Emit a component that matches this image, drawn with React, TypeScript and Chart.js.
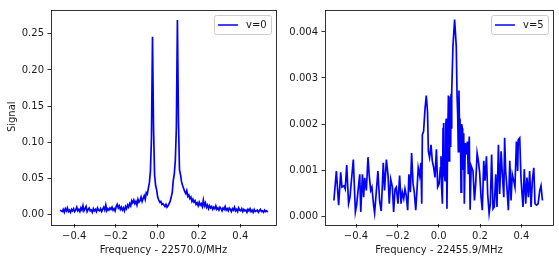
import React, { useEffect, useRef } from "react";
import { Chart, registerables } from "chart.js";

Chart.register(...registerables);

// ---------- data ----------
const leftLabel = "v=0";
const rightLabel = "v=5";
const leftXTitle = "Frequency - 22570.0/MHz";
const rightXTitle = "Frequency - 22455.9/MHz";
const leftYTitle = "Signal";

// uniform sampling grid of the left spectrum
const leftFreqStart = -0.468;
const leftFreqStep = 0.005;
const leftSignal = [
  0.006, 0.005, 0.004, 0.007, 0.003, 0.008, 0.005, 0.009, 0.004, 0.006,
  0.003, 0.007, 0.005, 0.008, 0.004, 0.006, 0.010, 0.005, 0.007, 0.004,
  0.009, 0.006, 0.012, 0.005, 0.008, 0.011, 0.004, 0.007, 0.009, 0.005,
  0.006, 0.003, 0.008, 0.005, 0.007, 0.004, 0.009, 0.006, 0.005, 0.008,
  0.004, 0.007, 0.010, 0.006, 0.013, 0.005, 0.008, 0.006, 0.009, 0.007,
  0.010, 0.006, 0.008, 0.005, 0.011, 0.014, 0.009, 0.012, 0.007, 0.010,
  0.006, 0.009, 0.005, 0.011, 0.008, 0.013, 0.010, 0.015, 0.012, 0.019,
  0.016, 0.020, 0.015, 0.018, 0.013, 0.021, 0.017, 0.019, 0.024, 0.018,
  0.022, 0.026, 0.021, 0.030, 0.028, 0.036, 0.044, 0.060, 0.105, 0.246,
  0.120, 0.055, 0.040, 0.034, 0.024, 0.020, 0.017, 0.018, 0.014, 0.015,
  0.013, 0.011, 0.014, 0.010, 0.012, 0.015, 0.018, 0.024, 0.030, 0.047,
  0.056, 0.075, 0.120, 0.269, 0.130, 0.062, 0.055, 0.045, 0.040, 0.036,
  0.032, 0.029, 0.033, 0.025, 0.027, 0.022, 0.024, 0.018, 0.021, 0.017,
  0.019, 0.014, 0.016, 0.012, 0.017, 0.013, 0.015, 0.011, 0.020, 0.012,
  0.016, 0.010, 0.013, 0.008, 0.012, 0.009, 0.011, 0.007, 0.010, 0.008,
  0.012, 0.007, 0.009, 0.006, 0.010, 0.008, 0.005, 0.009, 0.007, 0.011,
  0.006, 0.008, 0.005, 0.009, 0.007, 0.004, 0.008, 0.006, 0.010, 0.005,
  0.007, 0.004, 0.009, 0.006, 0.005, 0.008, 0.004, 0.007, 0.005, 0.006,
  0.003, 0.007, 0.005, 0.008, 0.004, 0.006, 0.003, 0.007, 0.004, 0.005,
  0.006, 0.003, 0.005, 0.007, 0.004, 0.005, 0.003, 0.006, 0.004, 0.005, 0.003,
];

const rightFreq = [
  -0.507, -0.495, -0.484, -0.474, -0.468, -0.458, -0.452, -0.445, -0.436, -0.429,
  -0.423, -0.413, -0.403, -0.397, -0.390, -0.382, -0.377, -0.369, -0.363, -0.358,
  -0.350, -0.342, -0.336, -0.329, -0.323, -0.315, -0.310, -0.302, -0.294, -0.286,
  -0.278, -0.268, -0.262, -0.253, -0.245, -0.239, -0.232, -0.224, -0.218, -0.211,
  -0.205, -0.197, -0.189, -0.182, -0.176, -0.169, -0.163, -0.157, -0.150, -0.144,
  -0.137, -0.131, -0.124, -0.118, -0.111, -0.105, -0.099, -0.092, -0.086, -0.082,
  -0.079, -0.073, -0.066, -0.060, -0.054, -0.050, -0.044, -0.037, -0.031, -0.024,
  -0.018, -0.011, -0.005, 0.002, 0.008, 0.011, 0.014, 0.018, 0.021, 0.024,
  0.027, 0.031, 0.034, 0.037, 0.040, 0.043, 0.047, 0.050, 0.053, 0.056,
  0.058, 0.060, 0.062, 0.064, 0.069, 0.077, 0.085, 0.089, 0.092, 0.095,
  0.098, 0.101, 0.103, 0.106, 0.108, 0.111, 0.114, 0.116, 0.119, 0.121,
  0.124, 0.129, 0.134, 0.139, 0.143, 0.148,
  0.152, 0.157, 0.166, 0.173, 0.179, 0.186, 0.192, 0.198, 0.205, 0.211,
  0.218, 0.224, 0.231, 0.237, 0.244, 0.250, 0.256, 0.263, 0.269, 0.276,
  0.282, 0.289, 0.295, 0.302, 0.308, 0.315, 0.319, 0.324, 0.331, 0.337,
  0.344, 0.350, 0.356, 0.363, 0.369, 0.376, 0.382, 0.385, 0.392, 0.398,
  0.402, 0.408, 0.414, 0.421, 0.427, 0.434, 0.440, 0.447, 0.453, 0.460,
  0.466, 0.473, 0.481, 0.489, 0.495, 0.502,
];
const rightSignal = [
  0.00034, 0.00098, 0.000235, 0.00095, 0.00063, 0.00066, 0.00059, 0.00111, 0.00027, 0.00041,
  0.00073, 0.00123, 0.00009, 0.00024, 0.00056, 0.00091, 0.00009, 0.00091, 0.00041, 0.00083,
  0.00056, 0.00128, 0.00088, 0.00056, 0.00063, 0.00024, 0.00007, 0.00052, 0.00098, 0.00034,
  0.00011, 0.00116, 0.00056, 0.00123, 0.00088, 0.00027, 0.0008, 0.00063, 0.00009, 0.00059,
  0.00063, 0.00027, 0.00088, 0.00027, 0.00052, 0.00038, 0.00059, 0.00045, 0.00013, 0.00091,
  0.00052, 0.00137, 0.0007, 0.00052, 0.00013, 0.00056, 0.00105, 0.00088, 0.00116, 0.00027,
  0.00177, 0.00184, 0.00234, 0.00262, 0.00226, 0.00141, 0.00127, 0.00155, 0.0012, 0.00105,
  0.00084, 0.00145, 0.00063, 0.0007, 0.00105, 0.0013, 0.00063, 0.00027, 0.0019, 0.00202,
  0.0009, 0.00077, 0.002, 0.00212, 0.00016, 0.0015, 0.00262, 0.0012, 0.0017, 0.0026,
  0.0015, 0.00266, 0.0019, 0.00269, 0.00369, 0.00427, 0.00369, 0.0026, 0.00219, 0.0014,
  0.00273, 0.0018, 0.00212, 0.0015, 0.00052, 0.002, 0.00191, 0.001, 0.00159, 0.0018,
  0.00027, 0.00159, 0.00134, 0.00162, 0.00091, 0.00173,
  0.00014, 0.00109, 0.00098, 0.00034, 0.0007, 0.00137, 0.0012, 0.00095, 0.00041, 0.00013,
  0.0012, 0.00077, 0.0013, 0.00048, 0.00006, 0.00027, 0.00134, 0.00016, 0.0002, 0.00091,
  0.0002, 0.00155, 0.00048, 0.00141, 0.00091, 0.00041, 0.0017, 0.00098, 0.00056, 0.00013,
  0.0012, 0.00034, 0.00091, 0.00077, 0.00063, 0.00162, 0.00098, 0.00166, 0.0017, 0.00084,
  0.00056, 0.0002, 0.00102, 0.00027, 0.00084, 0.00041, 0.00098, 0.0002, 0.00077, 0.00105,
  0.00027, 0.00024, 0.00027, 0.00056, 0.00066, 0.00034,
];

const leftXTicks = [-0.4, -0.2, 0.0, 0.2, 0.4];
const leftYTicks = [0.0, 0.05, 0.1, 0.15, 0.2, 0.25];
const rightXTicks = [-0.4, -0.2, 0.0, 0.2, 0.4];
const rightYTicks = [0.0, 0.001, 0.002, 0.003, 0.004];

// ---------- helpers ----------
const FONT = '"DejaVu Sans", sans-serif';
const TEXT = "#1a1a1a";
const LINE = "#0000ff";

const fmt = (v: number, d: number) => {
  const s = Math.abs(v).toFixed(d);
  return v < -1e-12 ? "\u2212" + s : s;
};

const framePlugin = {
  id: "mplFrame",
  afterDraw(chart: any) {
    const { ctx, chartArea: a } = chart;
    ctx.save();
    ctx.strokeStyle = "#000";
    ctx.lineWidth = 0.8;
    ctx.strokeRect(Math.round(a.left) + 0.5, Math.round(a.top) + 0.5, Math.round(a.right - a.left), Math.round(a.bottom - a.top));
    // legend
    const label = chart.data.datasets[0].label;
    ctx.font = "10px " + FONT;
    const tw = ctx.measureText(label).width;
    const w = 4 + 20 + 8 + tw + 4;
    const h = 19;
    const x = Math.round(a.right - 5 - w);
    const y = Math.round(a.top + 5);
    ctx.beginPath();
    (ctx as any).roundRect(x + 0.5, y + 0.5, Math.round(w), h, 2);
    ctx.fillStyle = "rgba(255,255,255,0.8)";
    ctx.fill();
    ctx.strokeStyle = "#cccccc";
    ctx.lineWidth = 1;
    ctx.stroke();
    ctx.beginPath();
    ctx.strokeStyle = LINE;
    ctx.lineWidth = 1.5;
    ctx.moveTo(x + 4, y + h / 2 + 0.5);
    ctx.lineTo(x + 24, y + h / 2 + 0.5);
    ctx.stroke();
    ctx.fillStyle = TEXT;
    ctx.textBaseline = "middle";
    ctx.textAlign = "left";
    ctx.fillText(label, x + 32, y + h / 2 + 1);
    ctx.restore();
  },
};

function makeChart(
  canvas: HTMLCanvasElement,
  points: { x: number; y: number }[],
  label: string,
  opts: {
    xMin: number; xMax: number; yMin: number; yMax: number;
    xTicks: number[]; yTicks: number[]; yDec: number;
    xTitle: string; yTitle?: string; yWidth: number; padRight: number;
  }
) {
  return new Chart(canvas, {
    type: "line",
    data: {
      datasets: [
        {
          label,
          data: points,
          borderColor: LINE,
          borderWidth: 1.7,
          pointRadius: 0,
          tension: 0,
          fill: false,
        },
      ],
    },
    options: {
      responsive: false,
      animation: false,
      devicePixelRatio: 1,
      parsing: false,
      layout: { padding: { left: 0, right: opts.padRight, top: 6, bottom: 0 } },
      plugins: { legend: { display: false }, tooltip: { enabled: false } },
      scales: {
        x: {
          type: "linear",
          min: opts.xMin,
          max: opts.xMax,
          afterBuildTicks: (ax: any) => {
            ax.ticks = opts.xTicks.map((v) => ({ value: v }));
          },
          afterFit: (ax: any) => {
            ax.height = 38;
          },
          border: { display: false },
          grid: { display: true, drawOnChartArea: false, drawTicks: true, tickLength: 3.5, color: "#000", lineWidth: 0.8 },
          ticks: {
            autoSkip: false,
            maxRotation: 0,
            padding: 3,
            color: TEXT,
            font: { family: FONT, size: 10 },
            callback: (v: any) => fmt(Number(v), 1),
          },
          title: { display: true, text: opts.xTitle, color: TEXT, font: { family: FONT, size: 10 }, padding: { top: 0, bottom: 6 } },
        },
        y: {
          type: "linear",
          min: opts.yMin,
          max: opts.yMax,
          afterBuildTicks: (ax: any) => {
            ax.ticks = opts.yTicks.map((v) => ({ value: v }));
          },
          afterFit: (ax: any) => {
            ax.width = opts.yWidth;
          },
          border: { display: false },
          grid: { display: true, drawOnChartArea: false, drawTicks: true, tickLength: 3.5, color: "#000", lineWidth: 0.8 },
          ticks: {
            autoSkip: false,
            padding: 3.5,
            color: TEXT,
            font: { family: FONT, size: 10 },
            callback: (v: any) => fmt(Number(v), opts.yDec),
          },
          title: {
            display: !!opts.yTitle,
            text: opts.yTitle || "",
            color: TEXT,
            font: { family: FONT, size: 10 },
            padding: { top: 6, bottom: 0 },
          },
        },
      },
    },
    plugins: [framePlugin],
  } as any);
}

export default function App() {
  const leftRef = useRef<HTMLCanvasElement | null>(null);
  const rightRef = useRef<HTMLCanvasElement | null>(null);

  useEffect(() => {
    const leftPts = leftSignal.map((y, i) => ({ x: leftFreqStart + i * leftFreqStep, y }));
    const rightPts = rightFreq.map((x, i) => ({ x, y: rightSignal[i] }));
    const c1 = makeChart(leftRef.current!, leftPts, leftLabel, {
      xMin: -0.512, xMax: 0.572, yMin: -0.0132, yMax: 0.2836,
      xTicks: leftXTicks, yTicks: leftYTicks, yDec: 2,
      xTitle: leftXTitle, yTitle: leftYTitle, yWidth: 51, padRight: 4,
    });
    const c2 = makeChart(rightRef.current!, rightPts, rightLabel, {
      xMin: -0.55, xMax: 0.553, yMin: -0.000171, yMax: 0.004487,
      xTicks: rightXTicks, yTicks: rightYTicks, yDec: 3,
      xTitle: rightXTitle, yWidth: 45, padRight: 6,
    });
    return () => {
      c1.destroy();
      c2.destroy();
    };
  }, []);

  return (
    <div style={{ position: "absolute", left: 0, top: 0, width: 559, height: 262, background: "#fff", overflow: "hidden" }}>
      <canvas ref={leftRef} width={280} height={262} style={{ position: "absolute", left: 0, top: 0, width: 280, height: 262 }} />
      <canvas ref={rightRef} width={279} height={262} style={{ position: "absolute", left: 280, top: 0, width: 279, height: 262 }} />
    </div>
  );
}
